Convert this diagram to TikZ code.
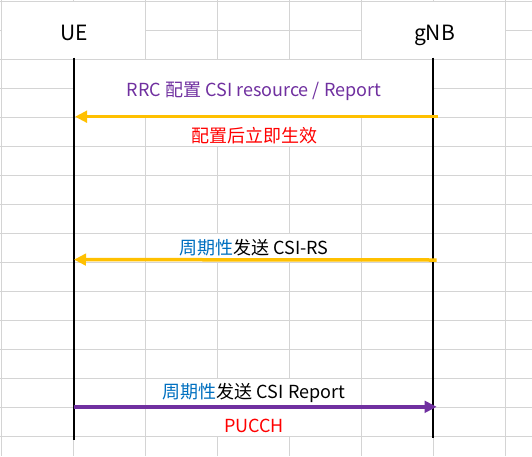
\documentclass[tikz,border=0pt]{standalone}
\usepackage{fontspec}
\usepackage{xcolor}
\usepackage{tikz}
\usetikzlibrary{arrows.meta}
\newfontfamily\cjk{Noto Sans CJK SC}
\definecolor{excelGold}{RGB}{255,192,0}
\definecolor{excelPurple}{RGB}{112,48,160}
\definecolor{excelBlue}{RGB}{0,112,192}
\definecolor{gridGray}{RGB}{212,212,212}

\begin{document}
\begin{tikzpicture}[
    x=1pt, y=-1pt,
    font=\cjk\fontsize{18}{20}\selectfont,
    gridline/.style={draw=gridGray, line width=1pt},
    merged/.style={fill=white},
    head/.style={inner sep=0pt, anchor=base, font=\cjk\fontsize{21}{24}\selectfont},
    msg/.style={inner sep=0pt, anchor=base},
    life/.style={draw=black, line width=2.2pt},
    arrow/.style={-{Triangle[length=12pt, width=11.5pt]}, line width=3.5pt}
  ]
    \useasboundingbox (0,0) rectangle (532,456);
    \fill[white] (0,0) rectangle (532,456);

    \foreach \i in {0,...,7}
      \draw[gridline] ({1.7+72*\i},0) -- ({1.7+72*\i},456);
    \foreach \j in {0,...,15}
      \draw[gridline] (0,{1.3+29*\j}) -- (532,{1.3+29*\j});

    \fill[merged] (2.2,1.8) rectangle (145.2,58.8);
    \fill[merged] (362.2,1.8) rectangle (505.2,58.8);
    \fill[merged] (74.2,59.8) rectangle (433.2,116.8);
    \fill[merged] (146.2,117.8) rectangle (361.2,145.8);
    \fill[merged] (146.2,233.8) rectangle (361.2,261.8);
    \fill[merged] (146.2,378.8) rectangle (361.2,435.8);

    \node[head] (ue) at (74.5,40) {UE};
    \node[head] (gnb) at (434.5,40) {gNB};

    \coordinate (ueTop) at (73.7,57.5);
    \coordinate (ueEnd) at (73.7,440);
    \coordinate (gnbTop) at (432.7,57.5);
    \coordinate (gnbEnd) at (432.7,438);
    \draw[life] (ueTop) -- (ueEnd);
    \draw[life] (gnbTop) -- (gnbEnd);

    \coordinate (gnbRrc) at (437.7,116.7);
    \coordinate (ueRrc) at (75,116.7);
    \coordinate (gnbRs) at (436.7,260);
    \coordinate (ueRs) at (74,259.6);
    \coordinate (ueRep) at (73.7,406.8);
    \coordinate (gnbRep) at (436.7,406.8);

    \draw[arrow, draw=excelGold, fill=excelGold] (gnbRrc) -- (ueRrc);
    \draw[arrow, draw=excelGold, fill=excelGold] (gnbRs) -- (ueRs);
    \draw[arrow, draw=excelPurple, fill=excelPurple] (ueRep) -- (gnbRep);

    \node[msg, text=excelPurple] (rrc) at (254,96) {RRC 配置 CSI resource / Report};
    \node[msg, anchor=center, text=red] (effect) at (254,135.5) {配置后立即生效};
    \node[msg] (csirs) at (254,254.3) {{\color{excelBlue}周期性}发送 CSI-RS};
    \node[msg] (report) at (254,398.3) {{\color{excelBlue}周期性}发送 CSI Report};
    \node[msg, text=red] (pucch) at (254,432.3) {PUCCH};
  \end{tikzpicture}
\end{document}
